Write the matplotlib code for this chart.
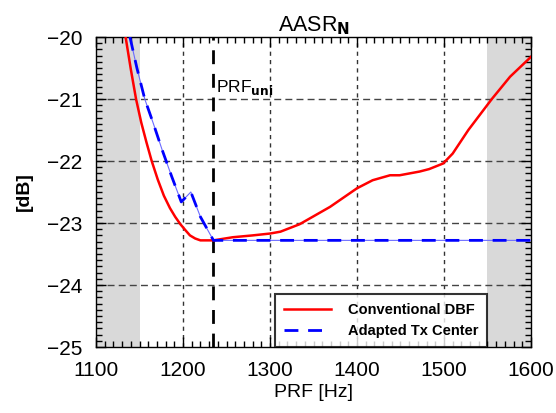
import matplotlib
matplotlib.use("Agg")
import matplotlib.pyplot as plt
from matplotlib.ticker import MultipleLocator

plt.rcParams['font.family'] = ['Liberation Sans', 'DejaVu Sans']

# Conventional DBF (red)
red_prf = [1134, 1140, 1146, 1152, 1158, 1164, 1171, 1178, 1185, 1191, 1197, 1203, 1208, 1214,
           1220, 1235, 1257, 1280, 1300, 1312, 1334, 1369, 1400, 1418, 1438, 1449, 1472, 1483,
           1499, 1510, 1528, 1555, 1576, 1600]
red_db = [-20.0, -20.52, -21.0, -21.38, -21.7, -22.0, -22.3, -22.56, -22.76, -22.9, -23.02, -23.12,
          -23.2, -23.25, -23.28, -23.28, -23.23, -23.2, -23.17, -23.14, -23.02, -22.74, -22.44,
          -22.31, -22.23, -22.23, -22.17, -22.13, -22.04, -21.88, -21.5, -21.0, -20.64, -20.32]

# Adapted Tx Center (blue)
blue_prf = [1139, 1147, 1156, 1166, 1176, 1187, 1198, 1209, 1220, 1235, 1300, 1400, 1500, 1600]
blue_db = [-20.0, -20.5, -21.0, -21.4, -21.82, -22.25, -22.66, -22.5, -22.9, -23.28, -23.28,
           -23.28, -23.28, -23.28]

prf_uni = 1235
gray_spans = [(1100, 1150), (1550, 1600)]
xticks = [1100, 1200, 1300, 1400, 1500, 1600]
yticks = [-25, -24, -23, -22, -21, -20]

fig = plt.figure(figsize=(5.56, 4.13), dpi=100)
ax = fig.add_axes([0.1727, 0.1598, 0.7823, 0.7506])

for a, b in gray_spans:
    ax.axvspan(a, b, color='#d9d9d9', lw=0, zorder=0)

for x in xticks[1:-1]:
    ax.axvline(x, color='#333333', lw=1.0, ls=(0, (3, 3)), zorder=1)
for y in yticks[1:-1]:
    ax.axhline(y, color='#444444', lw=1.0, ls=(0, (5, 3)), zorder=1)

ax.axvline(prf_uni, color='black', lw=2.0, ls=(0, (5, 3.5)), zorder=3)
ax.text(prf_uni + 3, -20.88, r'PRF$_\mathbf{uni}$', fontsize=12.5, ha='left', va='baseline', zorder=5)

ax.plot(red_prf, red_db, color='#ff0000', lw=1.8, zorder=4, label='Conventional DBF')
ax.plot(blue_prf, blue_db, color='#6a6aff', lw=0.8, zorder=4)
ax.plot(blue_prf, blue_db, color='#0000ff', lw=2.0, ls=(0, (5, 3.5)), zorder=4,
        label='Adapted Tx Center')

ax.set_xlim(1100, 1600)
ax.set_ylim(-25, -20)
ax.set_xticks(xticks)
ax.set_yticks(yticks)
ax.set_yticklabels(['\u221225', '\u221224', '\u221223', '\u221222', '\u221221', '\u221220'])
ax.xaxis.set_minor_locator(MultipleLocator(10))
ax.yaxis.set_minor_locator(MultipleLocator(0.1))
ax.tick_params(which='both', direction='in', top=True, right=True, labelsize=15, width=1)
ax.tick_params(which='major', length=7)
ax.tick_params(which='minor', length=4)
ax.tick_params(axis='x', which='major', pad=10)
ax.tick_params(axis='y', which='major', pad=10)
for s in ax.spines.values():
    s.set_linewidth(1.0)

ax.set_xlabel('PRF [Hz]', fontsize=14, labelpad=3)
ax.set_ylabel('[dB]', fontsize=14, fontweight='bold', labelpad=10)
ax.set_title(r'AASR$_\mathbf{N}$', fontsize=15.5, pad=4)

leg = ax.legend(loc='lower right', bbox_to_anchor=(1550, -25), bbox_transform=ax.transData,
                prop={'weight': 'bold', 'size': 10.5}, frameon=True, fancybox=False,
                borderpad=0.6, handlelength=3.2, handletextpad=1.2, labelspacing=0.5,
                borderaxespad=0)
leg.get_frame().set_edgecolor('black')
leg.get_frame().set_linewidth(1.5)
leg.set_zorder(6)

fig.savefig('out.png', dpi=100)
